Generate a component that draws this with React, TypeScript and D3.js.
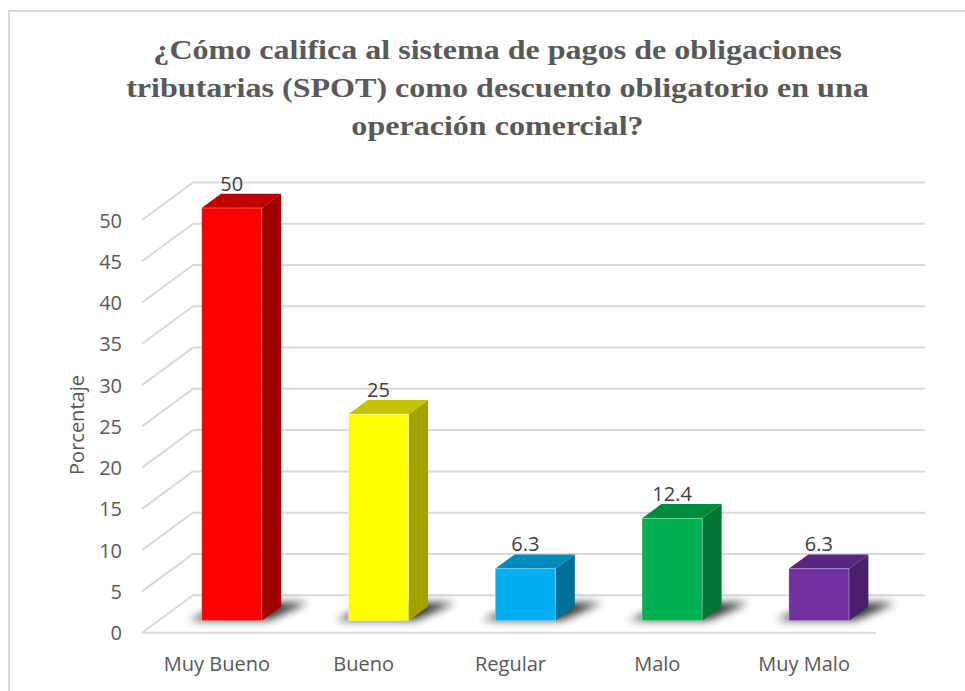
import React from "react";
import * as d3 from "d3";

const titleLines = [
  "¿Cómo califica al sistema de pagos de obligaciones",
  "tributarias (SPOT) como descuento obligatorio en una",
  "operación comercial?",
];
const categories = ["Muy Bueno", "Bueno", "Regular", "Malo", "Muy Malo"];
const values = [50, 25, 6.3, 12.4, 6.3];
const valueLabels = ["50", "25", "6.3", "12.4", "6.3"];
const yTicks = [0, 5, 10, 15, 20, 25, 30, 35, 40, 45, 50];
const frontColors = ["#FF0000", "#FFFF00", "#00B0F0", "#00B050", "#7030A0"];
const topColors = ["#C00000", "#C4C400", "#0089BC", "#008A3E", "#582680"];
const sideColors = ["#A00000", "#A3A300", "#006F99", "#007534", "#4A1F6B"];
const yAxisTitle = "Porcentaje";

const W = 965;
const H = 691;
const X0 = 142;
const X1 = 876;
const DX = 51;
const DY = -37.5;
const D0 = 0.32;
const D1 = 0.70;

export default function App() {
  const x = d3
    .scaleBand<string>()
    .domain(categories)
    .range([X0, X1])
    .paddingInner(0.59)
    .paddingOuter(0.295);
  const y = d3.scaleLinear().domain([0, 50]).range([632.7, 220]);
  const fontSans = "'Open Sans', 'DejaVu Sans', sans-serif";
  const gridColor = "#d9d9d9";

  const pt = (px: number, py: number) => `${px},${py}`;

  return (
    <svg
      width={W}
      height={H}
      style={{ position: "absolute", left: 0, top: 0, background: "#fff" }}
    >
      <defs>
        <filter id="shadowBlur" x="-50%" y="-100%" width="200%" height="300%">
          <feGaussianBlur stdDeviation="4" />
        </filter>
      </defs>
      {/* frame */}
      <rect
        x={9}
        y={11}
        width={1100}
        height={900}
        fill="none"
        stroke={gridColor}
        strokeWidth={2}
      />
      {/* title */}
      {titleLines.map((line, i) => (
        <text
          key={i}
          transform={`translate(497.5, ${58.5 + i * 38}) scale(1.21,1)`}
          textAnchor="middle"
          fontFamily="'Liberation Serif', 'Times New Roman', serif"
          fontWeight="bold"
          fontSize={26.5}
          fill="#595959"
        >
          {line}
        </text>
      ))}
      {/* gridlines */}
      {yTicks.map((t) => (
        <g key={t} stroke={gridColor} strokeWidth={2} fill="none">
          <line x1={X0} y1={y(t)} x2={X0 + DX} y2={y(t) + DY} />
          <line x1={X0 + DX} y1={y(t) + DY} x2={X1 + DX - 2} y2={y(t) + DY} />
        </g>
      ))}
      <line x1={X0} y1={y(0)} x2={X1} y2={y(0)} stroke={gridColor} strokeWidth={2} />
      {/* y tick labels */}
      {yTicks.map((t) => (
        <text
          key={t}
          x={122}
          y={y(t)}
          textAnchor="end"
          dominantBaseline="central"
          fontFamily={fontSans}
          fontSize={20}
          fill="#595959"
        >
          {t}
        </text>
      ))}
      {/* y axis title */}
      <text
        transform="translate(76,425) rotate(-90)"
        textAnchor="middle"
        dominantBaseline="central"
        fontFamily={fontSans}
        fontSize={20}
        fill="#595959"
      >
        {yAxisTitle}
      </text>
      {/* shadows */}
      {categories.map((c, i) => {
        const bx0 = x(c)!;
        const bx1 = bx0 + x.bandwidth();
        const yb = y(0);
        const sd0 = D0 + 0.02;
        const sd1 = D1 + 0.1;
        const poly = [
          pt(bx0 - 14 + sd0 * DX, yb + sd0 * DY),
          pt(bx1 + 6 + sd0 * DX, yb + sd0 * DY),
          pt(bx1 + 22 + sd1 * DX, yb + sd1 * DY),
          pt(bx0 + 4 + sd1 * DX, yb + sd1 * DY),
        ].join(" ");
        return (
          <polygon
            key={c}
            points={poly}
            fill="#000"
            opacity={0.8}
            filter="url(#shadowBlur)"
          />
        );
      })}
      {/* bars */}
      {categories.map((c, i) => {
        const v = values[i];
        const bx0 = x(c)! + D0 * DX;
        const bx1 = bx0 + x.bandwidth();
        const yb = y(0) + D0 * DY;
        const yt = y(v) + D0 * DY;
        const ddx = (D1 - D0) * DX;
        const ddy = (D1 - D0) * DY;
        const front = [pt(bx0, yt), pt(bx1, yt), pt(bx1, yb), pt(bx0, yb)].join(" ");
        const top = [pt(bx0, yt), pt(bx0 + ddx, yt + ddy), pt(bx1 + ddx, yt + ddy), pt(bx1, yt)].join(" ");
        const side = [pt(bx1, yt), pt(bx1 + ddx, yt + ddy), pt(bx1 + ddx, yb + ddy), pt(bx1, yb)].join(" ");
        return (
          <g key={c}>
            <polygon points={side} fill={sideColors[i]} />
            <polygon points={top} fill={topColors[i]} />
            <polygon
              points={front}
              fill={frontColors[i]}
              stroke="rgba(255,255,255,0.35)"
              strokeWidth={1}
            />
            <text
              x={(bx0 + bx1) / 2}
              y={yt + ddy - 3}
              textAnchor="middle"
              fontFamily={fontSans}
              fontSize={20}
              fill="#404040"
            >
              {valueLabels[i]}
            </text>
          </g>
        );
      })}
      {/* category labels */}
      {categories.map((c) => (
        <text
          key={c}
          x={x(c)! + x.bandwidth() / 2 + 1.5}
          y={671}
          textAnchor="middle"
          fontFamily={fontSans}
          fontSize={20}
          fill="#595959"
        >
          {c}
        </text>
      ))}
    </svg>
  );
}
